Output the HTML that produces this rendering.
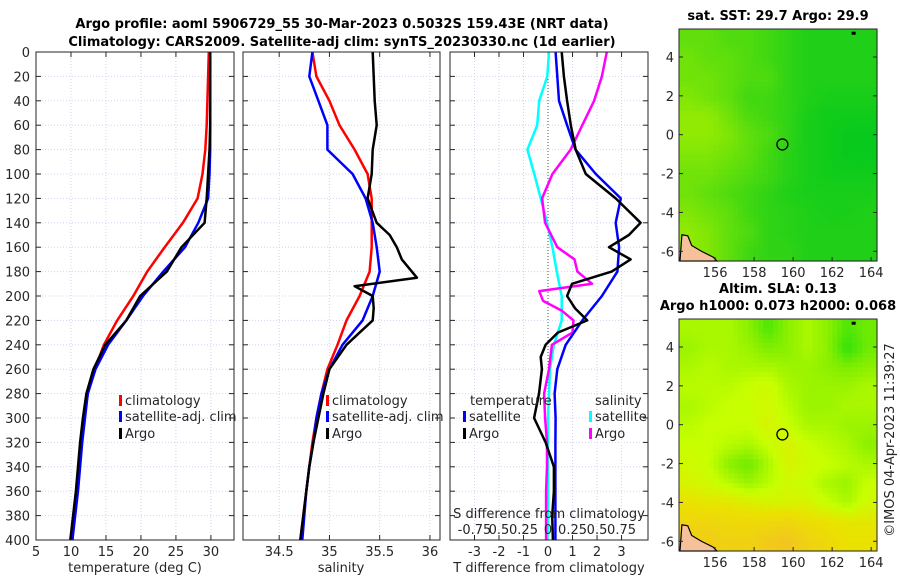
<!DOCTYPE html>
<html><head><meta charset="utf-8"><style>
body{margin:0;background:#fff;}
svg{display:block;font-family:"DejaVu Sans","Liberation Sans",sans-serif;}
</style></head><body>
<svg id="c" width="900" height="580" viewBox="0 0 900 580">
<g id="g"></g>
</svg>
<script>
// ---- data ----
const depths = [0,20,40,60,80,100,120,140,160,180,200,220,240,260,280,300,320,340,360,380,400];
const tempClim = [29.7,29.6,29.5,29.4,29.2,28.8,28.1,26.0,23.4,20.9,18.9,16.6,14.7,13.4,12.4,11.8,11.4,11.1,10.8,10.5,10.2];
const tempSat  = [29.9,29.9,29.9,29.9,29.9,29.8,29.6,28.2,26.3,23.2,20.3,17.9,15.3,13.5,12.4,12.0,11.6,11.3,11.0,10.6,10.2];
const tempArgo = [29.9,29.9,29.9,29.9,29.8,29.6,29.4,29.1,25.8,23.7,19.9,17.9,14.9,13.2,12.2,11.7,11.3,11.0,10.7,10.3,9.9];
const salClim = [34.83,34.87,35.0,35.1,35.25,35.38,35.42,35.42,35.42,35.4,35.3,35.17,35.08,34.98,34.92,34.87,34.83,34.8,34.77,34.74,34.71];
const salSat  = [34.83,34.8,34.89,34.98,34.98,35.23,35.36,35.43,35.47,35.5,35.43,35.33,35.13,35.0,34.92,34.87,34.84,34.8,34.77,34.75,34.73];
const argoSalDepths = [0,20,40,60,80,100,120,140,150,160,170,185,192,200,210,220,230,240,260,280,300,320,340,360,380,400];
const salArgo = [35.43,35.44,35.45,35.47,35.43,35.42,35.38,35.47,35.6,35.67,35.72,35.87,35.25,35.43,35.44,35.43,35.3,35.17,35.0,34.94,34.89,34.84,34.8,34.77,34.74,34.71];
const argoTdDepths = [0,20,40,60,80,100,120,140,150,160,170,180,190,200,210,220,230,240,250,260,280,300,320,340,360,380,400];
const tDiffArgo = [0.56,0.65,0.78,0.93,1.13,1.54,2.76,3.78,3.3,2.49,3.37,2.6,0.98,0.78,1.1,1.6,0.4,-0.1,-0.3,-0.25,-0.37,-0.57,-0.1,0.24,0.24,0.17,0.2];
const tDiffSat = [0.31,0.38,0.45,0.78,1.12,1.95,2.97,2.76,2.9,2.83,2.2,1.4,0.72,0.38,0.27,0.31,0.3,0.3,0.3,0.3,0.3];
const sDiffSat = [0.01,-0.007,-0.09,-0.11,-0.21,-0.14,-0.075,-0.01,0.045,0.09,0.14,0.14,0.06,0.02,0.01,0,0,0,0,0,-0.005];
const argoSdDepths = [0,20,40,60,80,100,120,140,160,170,180,190,196,204,212,220,230,240,260,280,300,320,340,360,380,400];
const sDiffArgo = [0.6,0.55,0.47,0.35,0.23,0.045,-0.06,-0.03,0.095,0.27,0.3,0.45,-0.09,-0.05,0.14,0.26,0.25,0.04,0.01,-0.04,-0.03,-0.01,-0.01,-0.02,-0.02,-0.02];
const depthTicks = [0,20,40,60,80,100,120,140,160,180,200,220,240,260,280,300,320,340,360,380,400];
const tempTicks = [5,10,15,20,25,30];
const salTicks = [34.5,35,35.5,36];
const tDiffTicks = [-3,-2,-1,0,1,2,3];
const sDiffTicks = [-0.75,-0.5,-0.25,0,0.25,0.5,0.75];
const sDiffLabels = ["-0.75","0.5","0.25","0","0.25","0.5","0.75"];
const lonTicks = [156,158,160,162,164];
const latTicks = [4,2,0,-2,-4,-6];
const sstGrid = [
[.4,.4,.5,.5,.6,.7,.8,.8,.8,.8],
[.3,.4,.4,.5,.6,.7,.8,.8,.8,.8],
[.3,.3,.4,.5,.5,.7,.8,.8,.8,.8],
[.2,.3,.4,.6,.6,.7,.8,.85,.85,.85],
[.1,.1,.3,.5,.6,.7,.85,.9,.9,.9],
[.1,.1,.2,.4,.5,.7,.85,.9,.95,.95],
[.2,.2,.3,.4,.6,.75,.85,.9,.95,.95],
[.3,.3,.4,.5,.6,.75,.85,.9,.9,.9],
[.3,.4,.5,.6,.7,.8,.85,.85,.85,.85],
[.2,.3,.4,.6,.7,.75,.8,.85,.85,.8],
[.1,.2,.4,.5,.7,.75,.8,.8,.8,.8],
[.1,.2,.4,.6,.7,.7,.8,.8,.8,.8]];
const slaGrid = [
[.8,.8,.8,.9,1.1,.9,.8,.9,1.1,1.0],
[.85,.8,.8,.85,.95,.9,.8,.9,1.2,1.0],
[.8,.75,.8,.8,.8,.85,.85,.9,.95,.9],
[.75,.75,.75,.7,.65,.8,.85,.85,.85,.8],
[.8,.75,.7,.7,.65,.75,.85,.85,.8,.8],
[.75,.7,.7,.7,.6,.7,.8,.8,.85,.85],
[.7,.7,.75,.8,.7,.6,.7,.75,.8,.9],
[.65,.7,.9,1.0,.8,.6,.65,.7,.75,.8],
[.6,.65,.75,.85,.75,.65,.7,.8,.85,.7],
[.45,.5,.5,.55,.6,.6,.6,.7,.8,.65],
[.3,.3,.35,.35,.35,.3,.4,.45,.5,.5],
[.2,.2,.25,.25,.15,.1,.25,.35,.45,.45]];
const argoLon = 159.45, argoLat = -0.5;

// ---- helpers ----
const NS="http://www.w3.org/2000/svg";
const G=document.getElementById('g');
function el(tag,attrs,parent){const e=document.createElementNS(NS,tag);for(const k in attrs)e.setAttribute(k,attrs[k]);(parent||G).appendChild(e);return e;}
function txt(x,y,s,attrs){const e=el('text',Object.assign({x:x,y:y,'font-size':13,fill:'#262626'},attrs||{}));e.textContent=s;return e;}
const Y0=52,Y1=540;
const yD=d=>Y0+(d/400)*(Y1-Y0);
const panels=[
 {x0:36,x1:234,lo:5,hi:33.3,name:'temperature-panel'},
 {x0:243,x1:440,lo:34.14,hi:36.1,name:'salinity-panel'},
 {x0:450,x1:648,lo:-4.0,hi:4.08,name:'difference-panel'}];
function xs(p,v){return p.x0+(v-p.lo)/(p.hi-p.lo)*(p.x1-p.x0);}
const sDx=(p,v)=>xs(p,v*4);
const GRID='#cfd4f0';

function panelFrame(p,ticks,fmt,showY){
  const g=el('g',{});
  
  
  el('rect',{x:p.x0,y:Y0,width:p.x1-p.x0,height:Y1-Y0,fill:'#fff'},g);
  depthTicks.forEach(d=>{
    el('line',{x1:p.x0,x2:p.x1,y1:yD(d),y2:yD(d),stroke:GRID,'stroke-width':1,'stroke-dasharray':'1,2'},g);
    el('line',{x1:p.x0,x2:p.x0+5,y1:yD(d),y2:yD(d),stroke:'#262626'},g);
    el('line',{x1:p.x1-5,x2:p.x1,y1:yD(d),y2:yD(d),stroke:'#262626'},g);
    if(showY){const t=txt(30,yD(d)+5,String(d),{'text-anchor':'end'});}
  });
  ticks.forEach(v=>{
    const x=xs(p,v);
    el('line',{x1:x,x2:x,y1:Y0,y2:Y1,stroke:GRID,'stroke-width':1,'stroke-dasharray':'1,2'},g);
    el('line',{x1:x,x2:x,y1:Y1,y2:Y1-5,stroke:'#262626'},g);
    el('line',{x1:x,x2:x,y1:Y0,y2:Y0+5,stroke:'#262626'},g);
    const t=txt(x,556,fmt(v),{'text-anchor':'middle'});
    
    
  });
  return g;
}
function drawLine(p,dep,vals,color,name,fx){
  const pts=vals.map((v,i)=>(fx?fx(p,v):xs(p,v)).toFixed(1)+','+yD(dep[i]).toFixed(1)).join(' ');
  const l=el('polyline',{points:pts,fill:'none',stroke:color,'stroke-width':2.5,'stroke-linejoin':'round'});
  
  
}
function border(p){el('rect',{x:p.x0,y:Y0,width:p.x1-p.x0,height:Y1-Y0,fill:'none',stroke:'#262626','stroke-width':1});}
function legendEntry(x,y,color,label){
  el('rect',{x:x,y:y-10,width:3,height:11,fill:color});
  const t=txt(x+6,y,label);
  
  
}

// panel 1
panelFrame(panels[0],tempTicks,v=>String(v),true);
drawLine(panels[0],depths,tempClim,'#ff0000','temp-climatology-line');
drawLine(panels[0],depths,tempSat,'#0000ff','temp-satellite-line');
drawLine(panels[0],depths,tempArgo,'#000000','temp-argo-line');
border(panels[0]);
legendEntry(119,405,'#ff0000','climatology');
legendEntry(119,421,'#0000ff','satellite-adj. clim');
legendEntry(119,438,'#000000','Argo');

// panel 2
panelFrame(panels[1],salTicks,v=>String(v),false);
drawLine(panels[1],depths,salClim,'#ff0000','sal-climatology-line');
drawLine(panels[1],depths,salSat,'#0000ff','sal-satellite-line');
drawLine(panels[1],argoSalDepths,salArgo,'#000000','sal-argo-line');
border(panels[1]);
legendEntry(326,405,'#ff0000','climatology');
legendEntry(326,421,'#0000ff','satellite-adj. clim');
legendEntry(326,438,'#000000','Argo');

// panel 3
panelFrame(panels[2],tDiffTicks,v=>String(v),false);
el('line',{x1:xs(panels[2],0),x2:xs(panels[2],0),y1:Y0,y2:Y1,stroke:'#555530','stroke-width':1,'stroke-dasharray':'1,2'});
drawLine(panels[2],depths,sDiffSat,'#00ffff','s-diff-satellite-line',sDx);
drawLine(panels[2],argoSdDepths,sDiffArgo,'#ff00ff','s-diff-argo-line',sDx);
drawLine(panels[2],depths,tDiffSat,'#0000ff','t-diff-satellite-line');
drawLine(panels[2],argoTdDepths,tDiffArgo,'#000000','t-diff-argo-line');
border(panels[2]);
txt(470,405,'temperature');
txt(595,405,'salinity');
legendEntry(463,421,'#0000ff','satellite');
legendEntry(463,438,'#000000','Argo');
legendEntry(589,421,'#00ffff','satellite');
legendEntry(589,438,'#ff00ff','Argo');
txt(549,518,'S difference from climatology',{'text-anchor':'middle'});
sDiffTicks.forEach((v,i)=>{
  const t=txt(sDx(panels[2],v),534,sDiffLabels[i],{'text-anchor':'middle'});
  
  
});

// axis titles
txt(135,572,'temperature (deg C)',{'text-anchor':'middle'});
txt(341,572,'salinity',{'text-anchor':'middle'});
txt(549,572,'T difference from climatology',{'text-anchor':'middle'});
txt(342,28,'Argo profile: aoml 5906729_55 30-Mar-2023 0.5032S 159.43E (NRT data)',{'text-anchor':'middle','font-weight':'bold',fill:'#000'});
txt(342,46,'Climatology: CARS2009. Satellite-adj clim: synTS_20230330.nc (1d earlier)',{'text-anchor':'middle','font-weight':'bold',fill:'#000'});

// ---- maps ----
const MX0=679,MX1=877,LON0=154.15,LON1=164.3,LAT0=5.44,LAT1=-6.5;
function lerp(a,b,t){return a.map((v,i)=>Math.round(v+(b[i]-v)*t));}
function sstColor(v){return 'rgb('+lerp([160,238,0],[0,200,30],v).join(',')+')';}
function slaColor(v){
  const stops=[[0,[245,190,40]],[0.45,[235,225,0]],[0.7,[200,255,0]],[0.9,[140,240,0]],[1.2,[50,225,10]]];
  for(let i=1;i<stops.length;i++){if(v<=stops[i][0]){const t=(v-stops[i-1][0])/(stops[i][0]-stops[i-1][0]);return 'rgb('+lerp(stops[i-1][1],stops[i][1],Math.max(0,t)).join(',')+')';}}
  return 'rgb(50,225,10)';
}
function sample(grid,fr,fc){
  const R=grid.length,C=grid[0].length;
  fr=Math.max(0,Math.min(R-1,fr));fc=Math.max(0,Math.min(C-1,fc));
  const r0=Math.floor(fr),c0=Math.floor(fc),r1=Math.min(R-1,r0+1),c1=Math.min(C-1,c0+1);
  const tr=fr-r0,tc=fc-c0;
  const a=grid[r0][c0]*(1-tc)+grid[r0][c1]*tc, b=grid[r1][c0]*(1-tc)+grid[r1][c1]*tc;
  return a*(1-tr)+b*tr;
}
function drawMap(Y0m,Y1m,grid,colorFn,name,title1,title2){
  const g=el('g',{});
  
  
  const lx=v=>MX0+(v-LON0)/(LON1-LON0)*(MX1-MX0);
  const ly=v=>Y0m+(LAT0-v)/(LAT0-LAT1)*(Y1m-Y0m);
  const rows=grid.length,cols=grid[0].length,S=4;
  const cw=(MX1-MX0)/(cols*S),ch=(Y1m-Y0m)/(rows*S);
  for(let r=0;r<rows*S;r++)for(let c=0;c<cols*S;c++){
    const v=sample(grid,(r+0.5)/S-0.5,(c+0.5)/S-0.5);
    const cell=el('rect',{x:(MX0+c*cw).toFixed(2),y:(Y0m+r*ch).toFixed(2),width:(cw+0.6).toFixed(2),height:(ch+0.6).toFixed(2),fill:colorFn(v)},g);
    
    
  }
  el('path',{d:`M${lx(154.3)},${ly(-5.15)} L${lx(154.6)},${ly(-5.2)} L${lx(154.8)},${ly(-5.7)} L${lx(155.3)},${ly(-6.0)} L${lx(155.9)},${ly(-6.3)} L${lx(156.1)},${ly(-6.5)} L${lx(154.2)},${ly(-6.5)} Z`,fill:'#f5c09a',stroke:'#000','stroke-width':1.2},g);
  const ac=el('circle',{cx:lx(argoLon),cy:ly(argoLat),r:5.5,fill:'none',stroke:'#000','stroke-width':1.3},g);
  
  
  el('rect',{x:lx(163),y:ly(5.3),width:4,height:3,fill:'#000'},g);
  el('rect',{x:MX0,y:Y0m,width:MX1-MX0,height:Y1m-Y0m,fill:'none',stroke:'#262626'},g);
  latTicks.forEach(v=>{
    el('line',{x1:MX0,x2:MX0+4,y1:ly(v),y2:ly(v),stroke:'#262626'},g);
    el('line',{x1:MX1-4,x2:MX1,y1:ly(v),y2:ly(v),stroke:'#262626'},g);
    const t=txt(674,ly(v)+5,String(v),{'text-anchor':'end'},g);
    
    
  });
  lonTicks.forEach(v=>{
    el('line',{x1:lx(v),x2:lx(v),y1:Y1m,y2:Y1m-4,stroke:'#262626'},g);
    const t=txt(lx(v),Y1m+16,String(v),{'text-anchor':'middle'});
    
    
  });
  if(title1)txt(778,Y0m-(title2?26:9),title1,{'text-anchor':'middle','font-weight':'bold',fill:'#000'});
  if(title2)txt(778,Y0m-9,title2,{'text-anchor':'middle','font-weight':'bold',fill:'#000'});
}
drawMap(29,261,sstGrid,sstColor,'sst-map','sat. SST: 29.7 Argo: 29.9',null);
drawMap(319,551,slaGrid,slaColor,'sla-map','Altim. SLA: 0.13','Argo h1000: 0.073 h2000: 0.068');
const cr=txt(0,0,'©IMOS 04-Apr-2023 11:39:27',{'text-anchor':'middle',transform:'translate(894,440) rotate(-90)'});


</script>
</body></html>
